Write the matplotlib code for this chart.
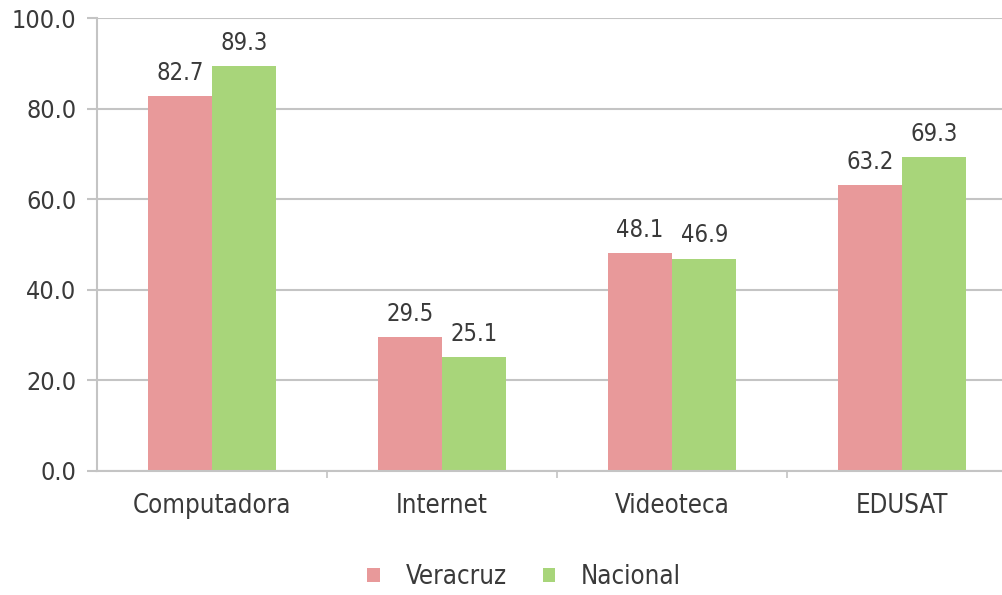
import matplotlib.pyplot as plt
import numpy as np

# datos
categorias = ['Computadora', 'Internet', 'Videoteca', 'EDUSAT']
veracruz = [82.7, 29.5, 48.1, 63.2]
nacional = [89.3, 25.1, 46.9, 69.3]
series = ['Veracruz', 'Nacional']
yticks = [0, 20, 40, 60, 80, 100]

plt.rcParams['font.family'] = ['DejaVu Sans']
plt.rcParams['font.stretch'] = 'condensed'
texto = '#3a3a3a'
gris = '#c4c4c4'

fig = plt.figure(figsize=(10.03, 5.95), dpi=100)
ax = fig.add_axes([97 / 1003, 124 / 595, 920 / 1003, 453 / 595])

x = np.arange(len(categorias))
w = 0.28
b1 = ax.bar(x - w / 2, veracruz, w, color='#e8999a', label=series[0])
b2 = ax.bar(x + w / 2, nacional, w, color='#a8d57a', label=series[1])

for bars in (b1, b2):
    for r in bars:
        ax.annotate(f'{r.get_height():.1f}', (r.get_x() + r.get_width() / 2, r.get_height()),
                    xytext=(0, 8), textcoords='offset points', ha='center', va='bottom',
                    fontsize=17, color=texto)

ax.set_xlim(-0.5, len(categorias) - 0.5)
ax.set_ylim(0, 100)
ax.set_yticks(yticks)
ax.set_yticklabels([f'{v:.1f}' for v in yticks])
ax.set_xticks(x)
ax.set_xticklabels(categorias)
ax.set_xticks(np.arange(0.5, len(categorias) - 0.5), minor=True)
ax.tick_params(axis='x', which='major', length=0, pad=16, labelsize=18.5, labelcolor=texto)
ax.tick_params(axis='x', which='minor', length=5, color=gris, width=1.2)
ax.tick_params(axis='y', length=7, color=gris, width=1.5, pad=8, labelsize=18, labelcolor=texto)

ax.yaxis.grid(True, color=gris, linewidth=1.5)
ax.set_axisbelow(True)
for s in ['top', 'right']:
    ax.spines[s].set_visible(False)
ax.spines['left'].set_color(gris)
ax.spines['left'].set_linewidth(1.5)
ax.spines['bottom'].set_color(gris)
ax.spines['bottom'].set_linewidth(1.5)

fig.legend(loc='center', bbox_to_anchor=(524 / 1003, 18 / 595), ncol=2, frameon=False,
           fontsize=18.5, handlelength=0.5, handleheight=0.45, columnspacing=1.4,
           handletextpad=1.0, labelcolor=texto)

fig.savefig('out.png', dpi=100)
